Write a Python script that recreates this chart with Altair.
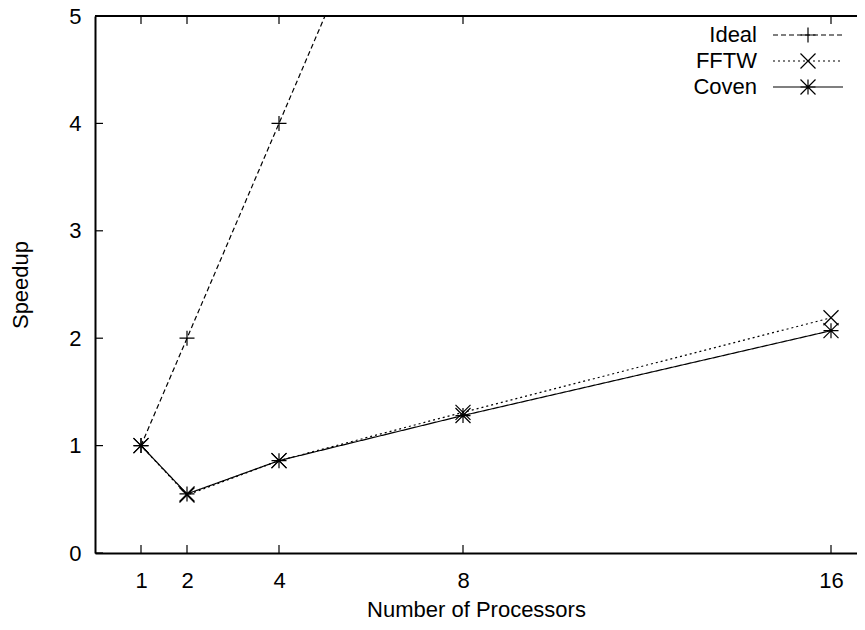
import altair as alt
import pandas as pd

# ---- data ----
procs = [1, 2, 4, 8, 16]
ideal = [1, 2, 4, 8, 16]
fftw = [1.0, 0.54, 0.86, 1.31, 2.19]
coven = [1.0, 0.55, 0.86, 1.28, 2.07]
series_names = ["Ideal", "FFTW", "Coven"]
x_ticks = [1, 2, 4, 8, 16]
y_ticks = [0, 1, 2, 3, 4, 5]

W, H = 762, 537
FONT = "Liberation Sans"
FS = 22

PLUS = "M-1,0L1,0M0,-1L0,1"
CROSS = "M-1,-1L1,1M-1,1L1,-1"
STAR = PLUS + CROSS
dashes = {"Ideal": [5, 3], "FFTW": [2, 3], "Coven": [1, 0]}
shapes = {"Ideal": PLUS, "FFTW": CROSS, "Coven": STAR}
legend_rows = {"Ideal": 19, "FFTW": 45, "Coven": 71}

values = {"Ideal": ideal, "FFTW": fftw, "Coven": coven}
df = pd.DataFrame(
    [{"procs": p, "speedup": v, "series": s}
     for s in series_names for p, v in zip(procs, values[s])]
)

xs = alt.Scale(domain=[0, W / 46.0], nice=False, zero=False)
ys = alt.Scale(domain=[0, 5], nice=False, zero=False)

x_axis = alt.Axis(
    values=x_ticks, ticks=False, grid=False, domainColor="black", domainWidth=2,
    labelFont=FONT, labelFontSize=FS, labelColor="black", labelPadding=34,
    labelBaseline="alphabetic", labelFlush=False, labelOverlap=False,
    title="Number of Processors", titleFont=FONT, titleFontSize=FS,
    titleFontWeight="normal", titleColor="black", titleX=W / 2, titleY=63,
    titleBaseline="alphabetic", titleAlign="center",
)
y_axis = alt.Axis(
    values=y_ticks, ticks=False, grid=False, domainColor="black", domainWidth=2,
    labelFont=FONT, labelFontSize=FS, labelColor="black", labelPadding=14,
    labelBaseline="middle", labelAlign="right", labelFlush=False, labelOverlap=False,
    title="Speedup", titleFont=FONT, titleFontSize=FS, titleFontWeight="normal",
    titleColor="black", titleAngle=270, titleX=-68, titleY=H / 2,
    titleBaseline="alphabetic", titleAlign="center",
)

X = alt.X("procs:Q", scale=xs, axis=x_axis)
Y = alt.Y("speedup:Q", scale=ys, axis=y_axis)

layers = []
for s in series_names:
    d = df[df.series == s]
    layers.append(
        alt.Chart(d).mark_line(color="black", strokeWidth=1.2, clip=True,
                               strokeDash=dashes[s]).encode(x=X, y=Y)
    )
    layers.append(
        alt.Chart(d).mark_point(shape=shapes[s], size=225, filled=False,
                                color="black", strokeWidth=1.2, opacity=1,
                                clip=True).encode(x=X, y=Y)
    )

# tick marks (inward) on bottom, top and left
xt = pd.DataFrame({"procs": x_ticks})
yt = pd.DataFrame({"speedup": y_ticks})
layers.append(alt.Chart(xt).mark_rule(color="black", strokeWidth=1.2).encode(
    x=X, y=alt.value(H), y2=alt.value(H - 8)))
layers.append(alt.Chart(xt).mark_rule(color="black", strokeWidth=1.2).encode(
    x=X, y=alt.value(0), y2=alt.value(8)))
layers.append(alt.Chart(yt).mark_rule(color="black", strokeWidth=1.2).encode(
    y=Y, x=alt.value(0), x2=alt.value(8)))
# top border
layers.append(alt.Chart(xt).mark_rule(color="black", strokeWidth=2).encode(
    y=alt.value(0), x=alt.value(0), x2=alt.value(W)))

# manual legend
for s in series_names:
    ly = legend_rows[s]
    ld = pd.DataFrame({"series": [s]})
    layers.append(alt.Chart(ld).mark_text(align="right", baseline="middle", font=FONT,
                                          fontSize=FS, color="black").encode(
        x=alt.value(662), y=alt.value(ly), text="series:N"))
    layers.append(alt.Chart(ld).mark_rule(color="black", strokeWidth=1.2,
                                          strokeDash=dashes[s]).encode(
        x=alt.value(678), x2=alt.value(748), y=alt.value(ly)))
    layers.append(alt.Chart(ld).mark_point(shape=shapes[s], size=225, filled=False,
                                           color="black", strokeWidth=1.2,
                                           opacity=1).encode(
        x=alt.value(713), y=alt.value(ly)))

chart = alt.layer(*layers).properties(
    width=W, height=H,
    autosize=alt.AutoSizeParams(type="none"),
    padding={"left": 87, "top": 8, "right": 0, "bottom": 69},
    background="white",
).configure_view(strokeWidth=0)

chart.save("out.html", embed_options={"renderer": "svg", "actions": False})
